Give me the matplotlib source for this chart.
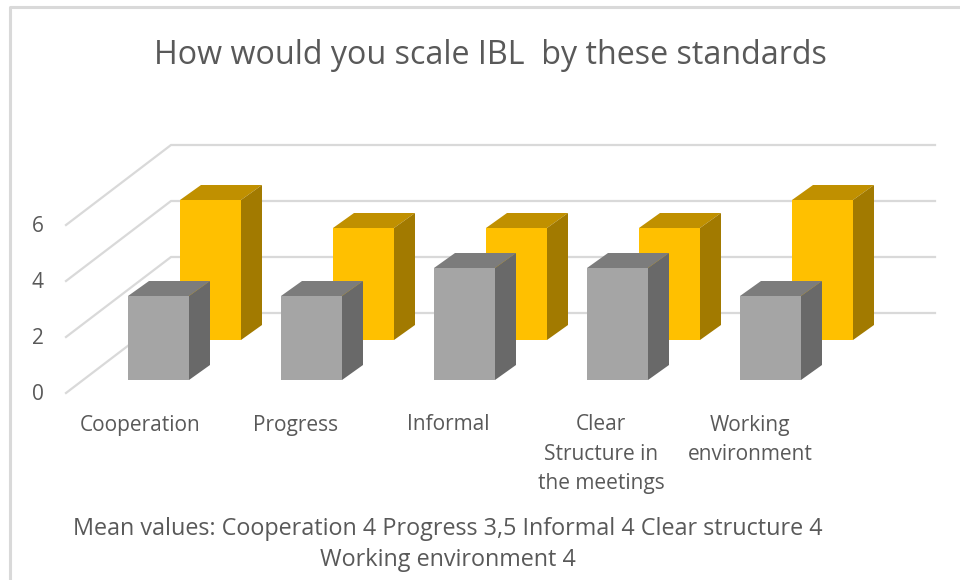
import matplotlib
matplotlib.use("Agg")
import matplotlib.pyplot as plt
from matplotlib.patches import Polygon

plt.rcParams['font.family'] = ['Open Sans', 'DejaVu Sans']

title = "How would you scale IBL  by these standards"
categories = ["Cooperation", "Progress", "Informal", "Clear\nStructure in\nthe meetings", "Working\nenvironment"]
front_values = [3, 3, 4, 4, 3]
back_values = [5, 4, 4, 4, 5]
grid_values = [0, 2, 4, 6]
note_lines = ["Mean values: Cooperation 4 Progress 3,5 Informal 4 Clear structure 4", "Working environment 4"]

text_color = "#595959"
grid_color = "#d9d9d9"


# px helpers, picture is 960x580 and the axes fill all of it
def fx(px):
    return px / 960


def fy(py):
    return 1 - py / 580


# Draws a fake 3d bar: normal bar for the front, polygons for top and side
def bar3d(ax, x, value, base, width, front, top, side):
    dx = 21 / 153
    dy = 15 / 28
    left = x - width / 2
    right = x + width / 2
    ax.bar(x, value, width, bottom=base, color=front, zorder=3)
    ax.add_patch(Polygon([(left, base + value), (right, base + value),
                          (right + dx, base + value + dy), (left + dx, base + value + dy)],
                         color=top, zorder=3, lw=0))
    ax.add_patch(Polygon([(right, base), (right, base + value),
                          (right + dx, base + value + dy), (right + dx, base + dy)],
                         color=side, zorder=3, lw=0))


fig = plt.figure(figsize=(9.6, 5.8), dpi=100)
ax = fig.add_axes([0, 0, 1, 1])

# one category = 153 px, one value = 28 px, value 0 on the front edge at y=393
ax.set_xlim(-158.5 / 153, (960 - 158.5) / 153)
ax.set_ylim((393 - 580) / 28, 393 / 28)
ax.axis("off")

# chart frame
fig.add_artist(plt.Line2D([fx(10), fx(10), fx(960)], [fy(580), fy(7), fy(7)], color="#d9d9d9", lw=2.2))

# gridlines: diagonal on the floor/side then straight along the back
for g in grid_values:
    ax.plot([(66 - 158.5) / 153, (171 - 158.5) / 153, (935 - 158.5) / 153], [g, g + 80 / 28, g + 80 / 28],
            color=grid_color, lw=1.6, zorder=1, solid_joinstyle="miter")
    fig.text(fx(38), fy(395 - g * 28), str(g), color=text_color, fontsize=15, ha="center", va="center")

# back series first so the front one covers it
for i in range(len(categories)):
    bar3d(ax, i + 52 / 153, back_values[i], 53 / 28, 61 / 153, "#ffc000", "#c09000", "#a27a00")
for i in range(len(categories)):
    bar3d(ax, i, front_values[i], 13 / 28, 61 / 153, "#a5a5a5", "#7c7c7c", "#696969")

label_x = [140, 296, 448, 601, 750]
for i in range(len(categories)):
    fig.text(fx(label_x[i]), fy(414.5), categories[i], color=text_color, fontsize=15,
             ha="center", va="top", linespacing=1.52)

fig.text(fx(490), fy(56), title, color=text_color, fontsize=23.2, ha="center", va="center")
fig.text(fx(448), fy(529), note_lines[0], color=text_color, fontsize=16.8, ha="center", va="center")
fig.text(fx(448), fy(560), note_lines[1], color=text_color, fontsize=16.8, ha="center", va="center")

fig.savefig("out.png", dpi=100, facecolor="white")
